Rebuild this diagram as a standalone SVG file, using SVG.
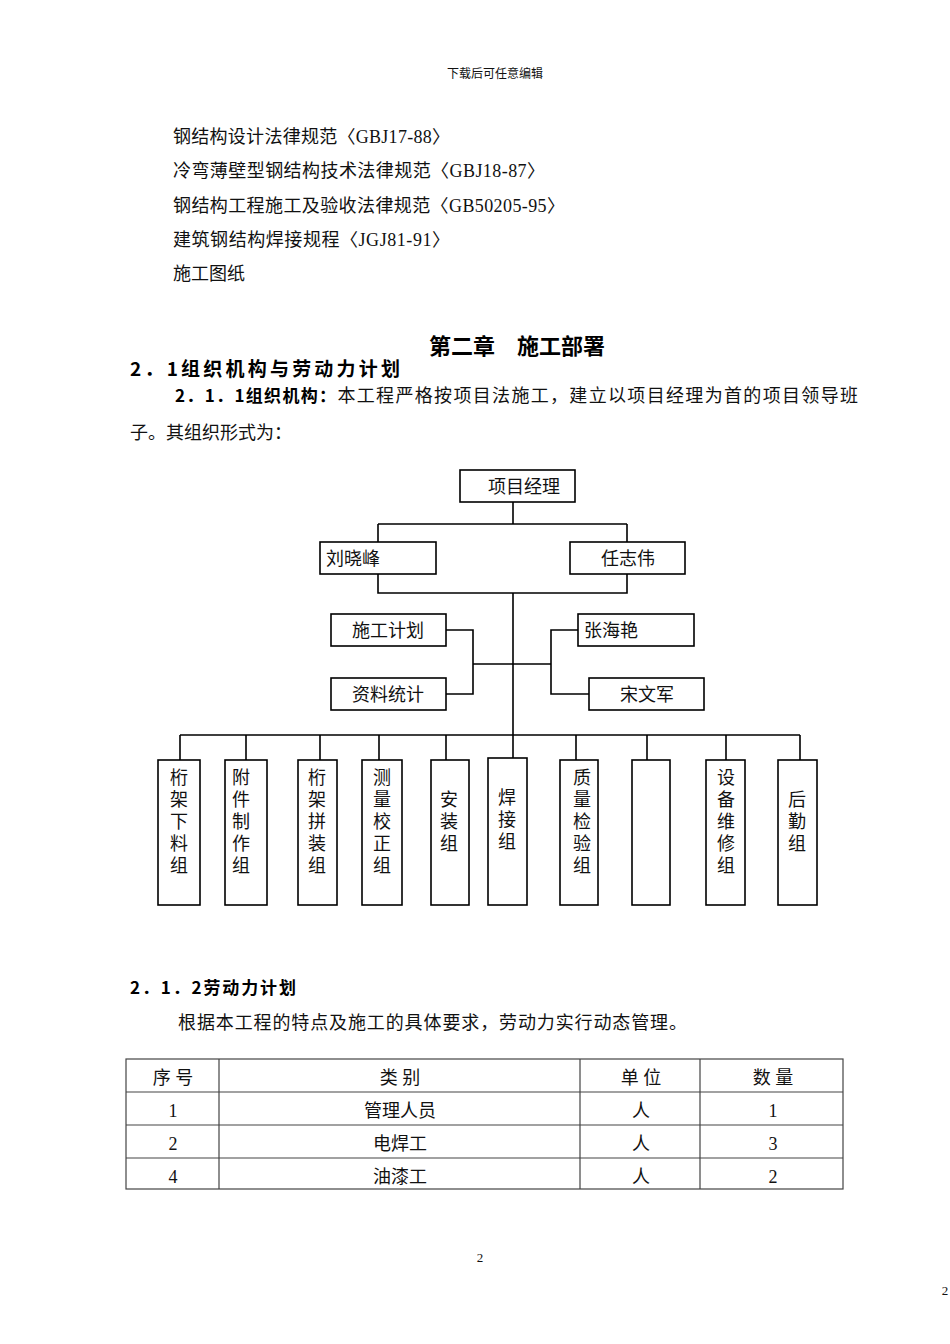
<svg xmlns="http://www.w3.org/2000/svg" width="950" height="1344" viewBox="0 0 950 1344">
<style>
.t{font-family:"Liberation Serif","Noto Sans CJK SC",serif;font-size:18px;fill:#111}
.b{font-family:"Noto Sans CJK SC",sans-serif;font-weight:bold;fill:#000}
.n{font-family:"Noto Sans CJK SC",sans-serif;font-size:18px;fill:#111}
.v{font-family:"Noto Sans CJK SC",sans-serif;font-size:18px;fill:#111;writing-mode:tb;letter-spacing:4px}
.box{fill:#fff;stroke:#000;stroke-width:1.6}
.ln{fill:none;stroke:#000;stroke-width:1.6}
.tb{fill:none;stroke:#444;stroke-width:1.2}
.c{text-anchor:middle}
</style>
<rect width="950" height="1344" fill="#fff"/>
<text x="495" y="78" class="n c" style="font-size:12px">下载后可任意编辑</text>
<text x="173" y="143" class="t" textLength="277" lengthAdjust="spacing">钢结构设计法律规范〈GBJ17-88〉</text>
<text x="173" y="177" class="t" textLength="372" lengthAdjust="spacing">冷弯薄壁型钢结构技术法律规范〈GBJ18-87〉</text>
<text x="173" y="212" class="t" textLength="392" lengthAdjust="spacing">钢结构工程施工及验收法律规范〈GB50205-95〉</text>
<text x="173" y="246" class="t" textLength="277" lengthAdjust="spacing">建筑钢结构焊接规程〈JGJ81-91〉</text>
<text x="173" y="280" class="t">施工图纸</text>
<text x="517" y="354" class="b c" style="font-size:22px">第二章　施工部署</text>
<text x="130" y="376" class="b" style="font-size:19px" textLength="270" lengthAdjust="spacing">2．1组织机构与劳动力计划</text>
<text x="175" y="402" class="t" textLength="683" lengthAdjust="spacing"><tspan class="b" style="font-size:17px">2．1．1组织机构：</tspan>本工程严格按项目法施工，建立以项目经理为首的项目领导班</text>
<text x="130" y="439" class="t">子。其组织形式为：</text>
<g id="connectors">
<path class="ln" d="M513 502V524M378 524H627M378 524V542M627 524V542M378 574V593H627V574M513 593V735"/>
<path class="ln" d="M446 630H473V694H446M473 664H551M578 630H551V694H589"/>
<path class="ln" d="M180 735H800M180 735V760M246 735V760M320 735V760M379 735V760M446 735V760M513 735V758M576 735V760M647 735V760M726 735V760M800 735V760"/>
</g>
<g id="n-pm"><rect class="box" x="460" y="470" width="115" height="32"/><text x="524" y="493" class="n c">项目经理</text></g>
<g id="n-liu"><rect class="box" x="320" y="542" width="116" height="32"/><text x="326" y="565" class="n">刘晓峰</text></g>
<g id="n-ren"><rect class="box" x="570" y="542" width="115" height="32"/><text x="628" y="565" class="n c">任志伟</text></g>
<g id="n-plan"><rect class="box" x="331" y="614" width="115" height="32"/><text x="388" y="637" class="n c">施工计划</text></g>
<g id="n-data"><rect class="box" x="331" y="678" width="115" height="32"/><text x="388" y="701" class="n c">资料统计</text></g>
<g id="n-zhang"><rect class="box" x="578" y="614" width="116" height="32"/><text x="584" y="637" class="n">张海艳</text></g>
<g id="n-song"><rect class="box" x="589" y="678" width="115" height="32"/><text x="647" y="701" class="n c">宋文军</text></g>
<g id="g1"><rect class="box" x="158" y="760" width="42" height="145"/><text x="179" y="768" class="v">桁架下料组</text></g>
<g id="g2"><rect class="box" x="225" y="760" width="42" height="145"/><text x="241" y="768" class="v">附件制作组</text></g>
<g id="g3"><rect class="box" x="298" y="760" width="39" height="145"/><text x="317" y="768" class="v">桁架拼装组</text></g>
<g id="g4"><rect class="box" x="362" y="760" width="40" height="145"/><text x="382" y="768" class="v">测量校正组</text></g>
<g id="g5"><rect class="box" x="431" y="760" width="38" height="145"/><text x="449" y="790" class="v">安装组</text></g>
<g id="g6"><rect class="box" x="488" y="758" width="39" height="147"/><text x="507" y="788" class="v">焊接组</text></g>
<g id="g7"><rect class="box" x="560" y="760" width="38" height="145"/><text x="582" y="768" class="v">质量检验组</text></g>
<g id="g8"><rect class="box" x="632" y="760" width="38" height="145"/></g>
<g id="g9"><rect class="box" x="706" y="760" width="39" height="145"/><text x="726" y="768" class="v">设备维修组</text></g>
<g id="g10"><rect class="box" x="778" y="760" width="39" height="145"/><text x="797" y="790" class="v">后勤组</text></g>
<text x="130" y="994" class="b" style="font-size:17px" textLength="166" lengthAdjust="spacing">2．1．2劳动力计划</text>
<text x="178" y="1029" class="t" textLength="509" lengthAdjust="spacing">根据本工程的特点及施工的具体要求，劳动力实行动态管理。</text>
<g id="table">
<rect class="tb" x="126" y="1059" width="717" height="130"/>
<path class="tb" d="M126 1092H843M126 1125H843M126 1158H843M219 1059V1189M580 1059V1189M700 1059V1189"/>
<text class="t c"><tspan x="173" y="1084">序 号</tspan><tspan x="400" y="1084">类 别</tspan><tspan x="641" y="1084">单 位</tspan><tspan x="773" y="1084">数 量</tspan></text>
<text class="t c"><tspan x="173" y="1117">1</tspan><tspan x="400" y="1117">管理人员</tspan><tspan x="641" y="1117">人</tspan><tspan x="773" y="1117">1</tspan></text>
<text class="t c"><tspan x="173" y="1150">2</tspan><tspan x="400" y="1150">电焊工</tspan><tspan x="641" y="1150">人</tspan><tspan x="773" y="1150">3</tspan></text>
<text class="t c"><tspan x="173" y="1183">4</tspan><tspan x="400" y="1183">油漆工</tspan><tspan x="641" y="1183">人</tspan><tspan x="773" y="1183">2</tspan></text>
</g>
<text x="480" y="1262" class="t c" style="font-size:13px">2</text>
<text x="945" y="1295" class="t c" style="font-size:13px">2</text>
</svg>
